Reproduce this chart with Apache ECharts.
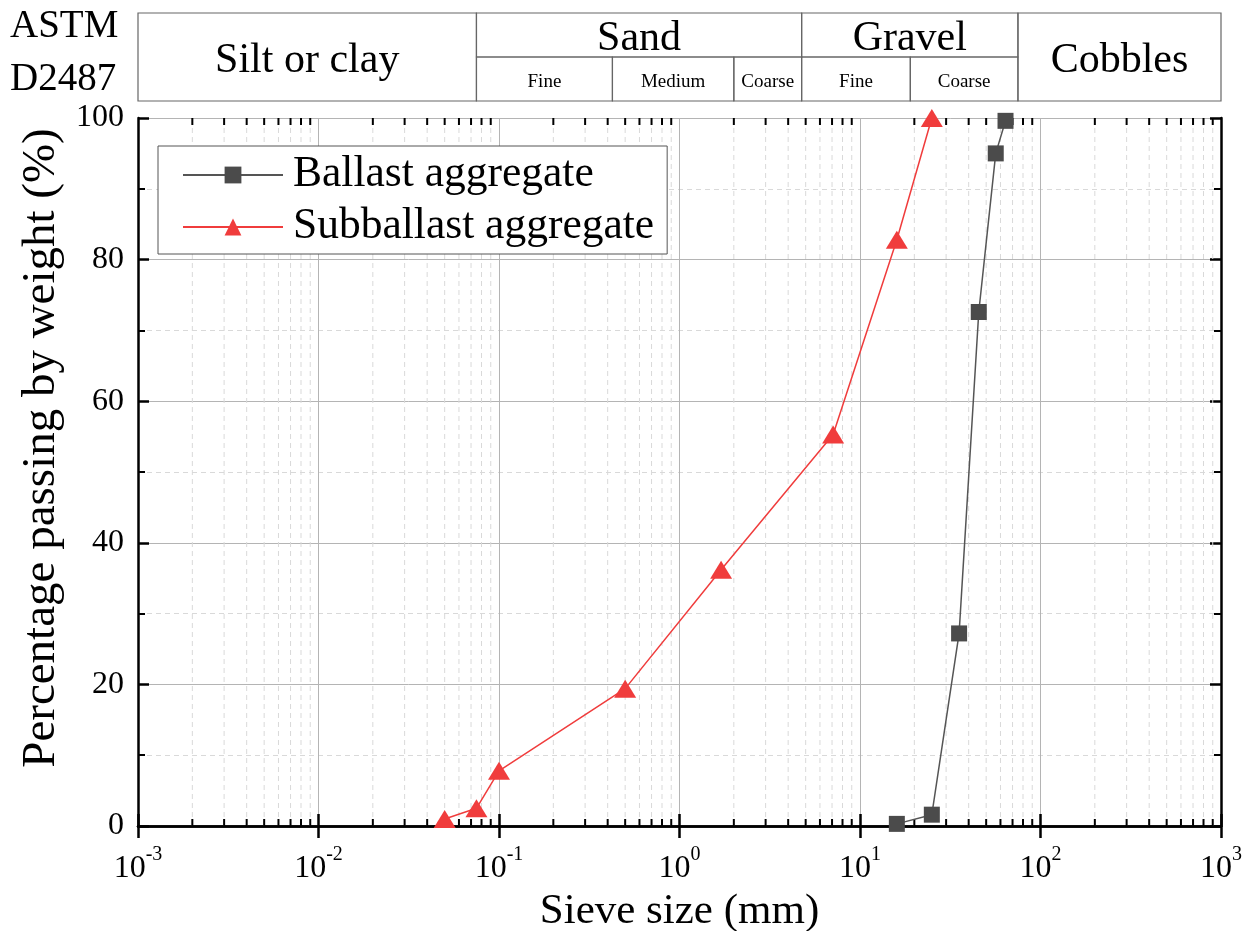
<!DOCTYPE html>
<html>
<head>
<meta charset="utf-8">
<script src="https://cdn.jsdelivr.net/npm/echarts@6/dist/echarts.min.js"></script>
<style>
  html, body { margin: 0; padding: 0; background: #fff; }
  #chart { width: 1253px; height: 931px; }
</style>
</head>
<body>
<div id="chart"></div>
<script>
// Grain-size distribution curves (sieve size in mm, percent passing)
const ballastSize = [16, 25, 35.4, 45.5, 56.5, 64];
const ballastPassing = [0.3, 1.6, 27.2, 72.6, 95.0, 99.6];

const subballastSize = [0.05, 0.075, 0.1, 0.5, 1.7, 7.1, 16, 25];
const subballastPassing = [1.0, 2.5, 7.8, 19.4, 36.2, 55.3, 82.8, 100];

const seriesNames = ['Ballast aggregate', 'Subballast aggregate'];

// ASTM D2487 soil classes (boundaries in mm)
const classNames = ['Silt or clay', 'Sand', 'Gravel', 'Cobbles'];
const classBounds = [0.001, 0.075, 4.75, 75, 1000];
const classHasSub = [false, true, true, false];
const subNames = ['Fine', 'Medium', 'Coarse', 'Fine', 'Coarse'];
const subBounds = [0.075, 0.425, 2, 4.75, 19, 75];

// Axis ranges and log minor tick multipliers
const xDecades = [-3, -2, -1, 0, 1, 2];
const minorMultipliers = [2, 3, 4, 5, 6, 7, 8, 9];
const yTickMax = 100;

const FONT = '"Liberation Serif", "Times New Roman", serif';

const minorX = [];
xDecades.forEach(function (e) {
  minorMultipliers.forEach(function (m) { minorX.push(m * Math.pow(10, e)); });
});

// Table cells: [x0, x1, y0, y1] in the header grid, plus label text/size
const cells = [];
classNames.forEach(function (n, i) {
  cells.push({ value: [classBounds[i], classBounds[i + 1], classHasSub[i] ? 1 : 0, 2], label: n, size: 42, dy: 4 });
});
subNames.forEach(function (n, i) {
  cells.push({ value: [subBounds[i], subBounds[i + 1], 0, 1], label: n, size: 19, dy: 3 });
});

const chart = echarts.init(document.getElementById('chart'));

const axisBlack = { lineStyle: { color: '#000', width: 2.5 } };

chart.setOption({
  animation: false,
  backgroundColor: '#fff',
  textStyle: { fontFamily: FONT },
  grid: [
    { left: 138, right: 32, top: 118, bottom: 105, outerBoundsMode: 'none', containLabel: false },
    { left: 138, right: 32, top: 13, height: 88, outerBoundsMode: 'none', containLabel: false }
  ],
  legend: {
    data: seriesNames,
    orient: 'vertical',
    left: 158,
    top: 146,
    padding: [6, 13, 4, 24],
    itemGap: 6,
    itemWidth: 100,
    itemHeight: 21,
    borderColor: '#555',
    borderWidth: 1,
    borderRadius: 0,
    backgroundColor: '#fff',
    textStyle: { fontFamily: FONT, fontSize: 43.5, color: '#000', lineHeight: 46, padding: [0, 0, 0, 5] }
  },
  graphic: [
    { type: 'text', left: 10, top: 7, style: { text: 'ASTM', font: '39px ' + FONT, fill: '#000' } },
    { type: 'text', left: 10, top: 60, style: { text: 'D2487', font: '39px ' + FONT, fill: '#000' } }
  ],
  xAxis: [
    {
      type: 'log', logBase: 10, min: 0.001, max: 1000, gridIndex: 0,
      name: 'Sieve size (mm)', nameLocation: 'middle', nameGap: 42,
      nameTextStyle: { fontFamily: FONT, fontSize: 43, color: '#000' },
      axisLine: axisBlack,
      axisTick: { inside: true, length: 12, lineStyle: { color: '#000', width: 2.5 } },
      axisLabel: {
        margin: 19,
        formatter: function (v) { return '{b|10}{s|' + Math.round(Math.log10(v)) + '}'; },
        rich: {
          b: { fontFamily: FONT, fontSize: 32, color: '#000', lineHeight: 40, verticalAlign: 'bottom' },
          s: { fontFamily: FONT, fontSize: 20, color: '#000', lineHeight: 16, verticalAlign: 'top' }
        }
      },
      splitLine: { show: true, lineStyle: { color: '#b4b4b4', width: 1 } }
    },
    {
      type: 'log', logBase: 10, min: 0.001, max: 1000, gridIndex: 0, position: 'top',
      axisLine: axisBlack,
      axisTick: { inside: true, length: 12, lineStyle: { color: '#000', width: 2.5 } },
      axisLabel: { show: false },
      splitLine: { show: false }
    },
    {
      type: 'log', logBase: 10, min: 0.001, max: 1000, gridIndex: 1, show: false
    }
  ],
  yAxis: [
    {
      type: 'value', min: 0, max: yTickMax, interval: 20, gridIndex: 0,
      name: 'Percentage passing by weight (%)', nameLocation: 'middle', nameGap: 63,
      nameTextStyle: { fontFamily: FONT, fontSize: 47, color: '#000', padding: [0, 0, 0, 48] },
      axisLine: axisBlack,
      axisTick: { inside: true, length: 11, lineStyle: { color: '#000', width: 2.5 } },
      minorTick: { show: true, splitNumber: 2, length: 7, lineStyle: { color: '#000', width: 2 } },
      axisLabel: { fontFamily: FONT, fontSize: 32, color: '#000', margin: 14 },
      splitLine: { show: true, lineStyle: { color: '#b4b4b4', width: 1 } },
      minorSplitLine: { show: true, lineStyle: { color: '#d9d9d9', width: 1, type: [5, 4] } }
    },
    {
      type: 'value', min: 0, max: yTickMax, interval: 20, gridIndex: 0, position: 'right',
      axisLine: axisBlack,
      axisTick: { inside: true, length: 11, lineStyle: { color: '#000', width: 2.5 } },
      minorTick: { show: true, splitNumber: 2, length: 7, lineStyle: { color: '#000', width: 2 } },
      axisLabel: { show: false },
      splitLine: { show: false }
    },
    {
      type: 'value', min: 0, max: 2, gridIndex: 1, show: false
    }
  ],
  series: [
    {
      // dashed minor grid lines and minor ticks of the log axis
      type: 'custom',
      xAxisIndex: 0, yAxisIndex: 0,
      silent: true,
      z: 1,
      data: minorX.map(function (v) { return [v]; }),
      renderItem: function (params, api) {
        const v = api.value(0);
        const p0 = api.coord([v, 0]);
        const p1 = api.coord([v, yTickMax]);
        return {
          type: 'group',
          children: [
            { type: 'line', shape: { x1: p0[0], y1: p0[1], x2: p1[0], y2: p1[1] },
              style: { stroke: '#d9d9d9', lineWidth: 1, lineDash: [5, 4] } },
            { type: 'line', shape: { x1: p0[0], y1: p0[1], x2: p0[0], y2: p0[1] - 7 },
              style: { stroke: '#000', lineWidth: 2 } },
            { type: 'line', shape: { x1: p1[0], y1: p1[1], x2: p1[0], y2: p1[1] + 7 },
              style: { stroke: '#000', lineWidth: 2 } }
          ]
        };
      }
    },
    {
      // ASTM classification header
      type: 'custom',
      xAxisIndex: 2, yAxisIndex: 2,
      silent: true,
      data: cells,
      renderItem: function (params, api) {
        const c = cells[params.dataIndex];
        const a = api.coord([api.value(0), api.value(3)]);
        const b = api.coord([api.value(1), api.value(2)]);
        return {
          type: 'group',
          children: [
            { type: 'rect', shape: { x: a[0], y: a[1], width: b[0] - a[0], height: b[1] - a[1] },
              style: { fill: 'none', stroke: '#666', lineWidth: 1.2 } },
            { type: 'text', x: (a[0] + b[0]) / 2, y: (a[1] + b[1]) / 2 + c.dy,
              style: { text: c.label, fontFamily: FONT, fontSize: c.size, fill: '#000',
                       align: 'center', verticalAlign: 'middle' } }
          ]
        };
      }
    },
    {
      name: seriesNames[0],
      type: 'line',
      xAxisIndex: 0, yAxisIndex: 0,
      z: 3,
      data: ballastSize.map(function (x, i) { return [x, ballastPassing[i]]; }),
      symbol: 'rect',
      symbolSize: 16,
      clip: false,
      itemStyle: { color: '#4b4b4b' },
      lineStyle: { color: '#555', width: 1.5 }
    },
    {
      name: seriesNames[1],
      type: 'line',
      xAxisIndex: 0, yAxisIndex: 0,
      z: 4,
      data: subballastSize.map(function (x, i) { return [x, subballastPassing[i]]; }),
      symbol: 'triangle',
      symbolSize: [22, 18],
      clip: false,
      itemStyle: { color: '#f03c3c' },
      lineStyle: { color: '#f03c3c', width: 1.5 }
    }
  ]
});
</script>
</body>
</html>
